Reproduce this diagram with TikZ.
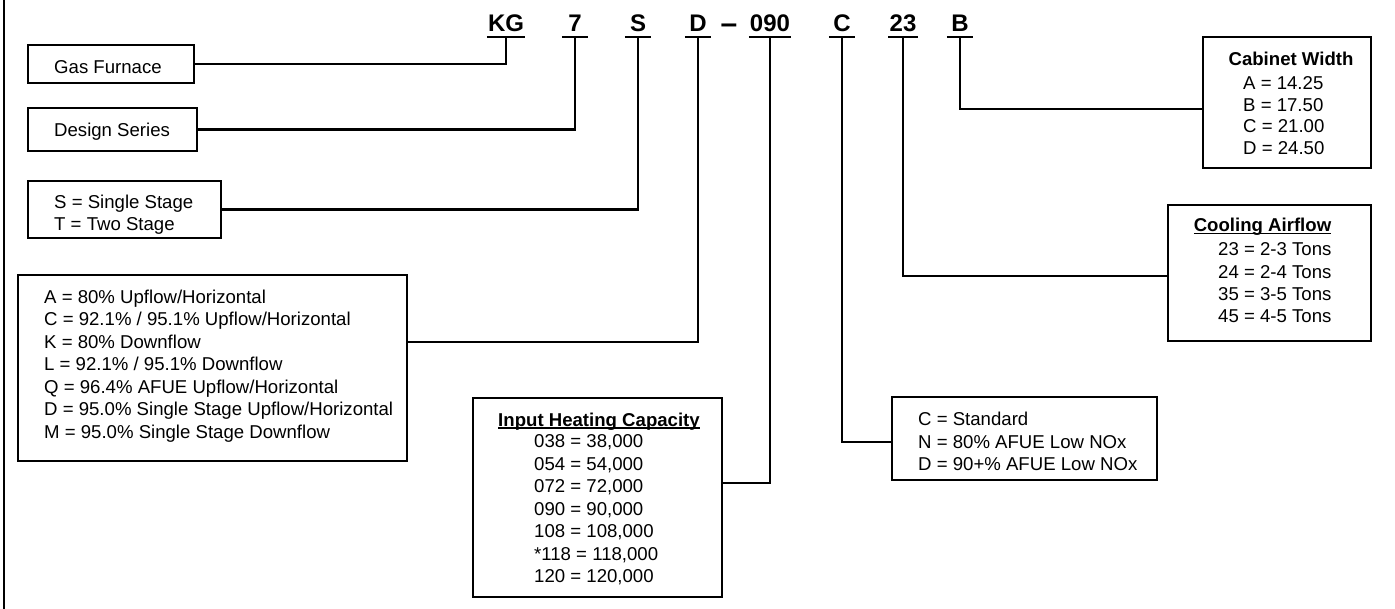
\documentclass[tikz,border=0pt]{standalone}
\usepackage{fontspec}
\setmainfont{Liberation Sans}
\newcommand\fs{\fontsize{18.6}{22.5}\selectfont}
\newcommand\codefnt{\fontsize{24}{28}\selectfont\bfseries}
\newcommand\fstrut{\rule{0pt}{14pt}}
\newcommand\ulin[1]{\setbox0\hbox{#1}\rlap{\rule[-2.6pt]{\wd0}{1.5pt}}\box0}
\begin{document}
\begin{tikzpicture}[x=1pt,y=-1pt,
  box/.style={draw, line width=2.2pt, inner sep=0pt},
  conn/.style={line width=2.2pt},
  txt/.style={inner sep=0pt, font=\fs, align=left},
  ttl/.style={inner sep=0pt, font=\fs\bfseries, anchor=base},
  code/.style={font=\codefnt, inner xsep=1pt, inner ysep=0pt, text height=17pt, text depth=5pt, minimum width=26pt, anchor=base}]
\useasboundingbox (0,0) rectangle (1395,609);
\draw[conn] (4,0) -- (4,609);

% code letters
\node[code] (kg) at (506,32) {KG};
\node[code] (n7) at (575,32) {7};
\node[code] (ns) at (638,32) {S};
\node[code] (nd) at (698,32) {D};
\node[font=\fontsize{30}{34}\selectfont\bfseries, inner sep=0pt, anchor=base] (dash) at (729,33.5) {--};
\node[code] (n090) at (770,32) {090};
\node[code] (nc) at (842,32) {C};
\node[code] (n23) at (903,32) {23};
\node[code] (nb) at (960,32) {B};
\foreach \n in {kg,n7,ns,nd,n090,nc,n23,nb}
  \draw[conn] (\n.south west) -- (\n.south east);

% boxes
\node[box, minimum width=166pt, minimum height=38pt] (gas) at (111,64) {};
\node[box, minimum width=169pt, minimum height=43pt] (design) at (112.5,129.5) {};
\node[box, minimum width=193pt, minimum height=57pt] (stage) at (124.5,209.5) {};
\node[box, minimum width=389pt, minimum height=186pt] (model) at (212.5,368) {};
\node[box, minimum width=249pt, minimum height=199pt] (input) at (597.5,497.5) {};
\node[box, minimum width=265pt, minimum height=83pt] (burner) at (1024.5,438.5) {};
\node[box, minimum width=168pt, minimum height=131pt] (cab) at (1287,102.5) {};
\node[box, minimum width=203pt, minimum height=136pt] (cool) at (1269.5,273) {};

% texts
\node[txt, anchor=base west] (gasT) at (54,74) {Gas Furnace};
\node[txt, anchor=base west] (designT) at (54,137) {Design Series};
\node[txt, anchor=north west] (stageT) at (54,194) {\fstrut S = Single Stage\\T = Two Stage};
\node[txt, anchor=north west] (modelT) at (44,289.3) {\fstrut A = 80\% Upflow/Horizontal\\
C = 92.1\% / 95.1\% Upflow/Horizontal\\
K = 80\% Downflow\\
L = 92.1\% / 95.1\% Downflow\\
Q = 96.4\% AFUE Upflow/Horizontal\\
D = 95.0\% Single Stage Upflow/Horizontal\\
M = 95.0\% Single Stage Downflow};
\node[ttl] (inputH) at (599,426) {\ulin{Input Heating Capacity}};
\node[txt, anchor=north west] (inputT) at (534,433.7) {\fstrut 038 = 38,000\\
054 = 54,000\\
072 = 72,000\\
090 = 90,000\\
108 = 108,000\\
*118 = 118,000\\
120 = 120,000};
\node[txt, anchor=north west] (burnerT) at (918,411.7) {\fstrut C = Standard\\
N = 80\% AFUE Low NOx\\
D = 90+\% AFUE Low NOx};
\node[ttl] (cabH) at (1291,65.7) {Cabinet Width};
\node[txt, anchor=north west, font=\fontsize{18.6}{21.6}\selectfont] (cabT) at (1243,75.3) {\fstrut A = 14.25\\
B = 17.50\\
C = 21.00\\
D = 24.50};
\node[ttl] (coolH) at (1262.5,231.7) {\ulin{Cooling Airflow}};
\node[txt, anchor=north west, font=\fontsize{18.6}{22.2}\selectfont] (coolT) at (1218,241.7) {\fstrut 23 = 2-3 Tons\\
24 = 2-4 Tons\\
35 = 3-5 Tons\\
45 = 4-5 Tons};

% connectors
\draw[conn] (kg.south) |- (gas.east);
\draw[conn] (n7.south) |- (design.east);
\draw[conn] (ns.south) |- (stage.east);
\draw[conn] (nd.south) |- ([yshift=26pt]model.east);
\draw[conn] (n090.south) |- ([yshift=14.5pt]input.east);
\draw[conn] (nc.south) |- ([yshift=-3.5pt]burner.west);
\draw[conn] (n23.south) |- ([yshift=-3pt]cool.west);
\draw[conn] (nb.south) |- ([yshift=-6.5pt]cab.west);
\end{tikzpicture}
\end{document}
